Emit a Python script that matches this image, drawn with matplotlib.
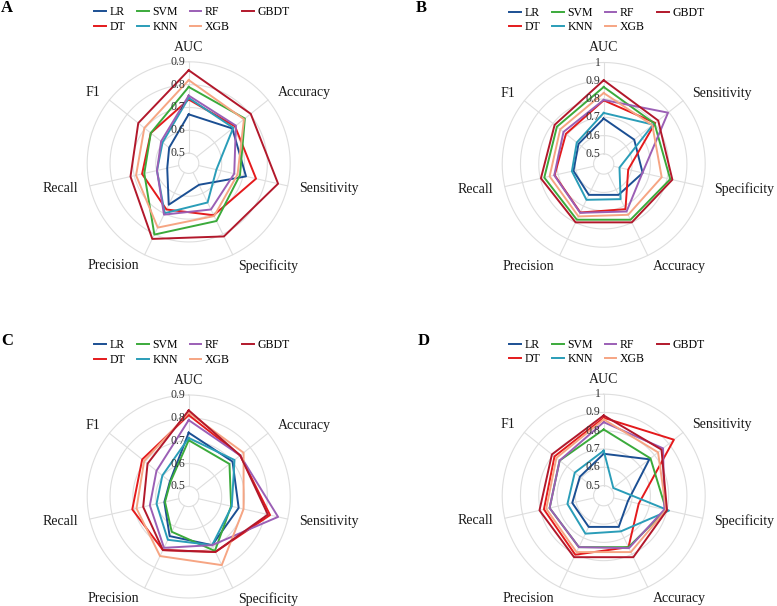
import matplotlib
matplotlib.use('Agg')
import matplotlib.pyplot as plt
import matplotlib.transforms as mtransforms
from matplotlib.lines import Line2D
import numpy as np

plt.rcParams['font.family'] = ['Liberation Serif', 'DejaVu Serif']

models = ['LR', 'DT', 'SVM', 'KNN', 'RF', 'XGB', 'GBDT']
colors = ['#1B4F93', '#E41A1C', '#3BAA3B', '#2A9DB8', '#9B5FB5', '#F6A583', '#B2182B']

metrics_AC = ['AUC', 'Accuracy', 'Sensitivity', 'Specificity', 'Precision', 'Recall', 'F1']
metrics_BD = ['AUC', 'Sensitivity', 'Specificity', 'Accuracy', 'Precision', 'Recall', 'F1']

ticks_AC = [0.5, 0.6, 0.7, 0.8, 0.9]
ticks_BD = [0.5, 0.6, 0.7, 0.8, 0.9, 1.0]
tick_labels_AC = ['0.5', '0.6', '0.7', '0.8', '0.9']
tick_labels_BD = ['0.5', '0.6', '0.7', '0.8', '0.9', '1']

# rows follow `models`, columns follow the panel's metric order
values_A = [
    [0.670, 0.700, 0.713, 0.560, 0.657, 0.552, 0.565],
    [0.735, 0.715, 0.758, 0.708, 0.680, 0.665, 0.668],
    [0.790, 0.770, 0.686, 0.736, 0.802, 0.655, 0.668],
    [0.742, 0.705, 0.580, 0.646, 0.698, 0.598, 0.602],
    [0.752, 0.720, 0.660, 0.680, 0.705, 0.598, 0.610],
    [0.820, 0.765, 0.675, 0.712, 0.768, 0.692, 0.704],
    [0.863, 0.803, 0.857, 0.811, 0.823, 0.717, 0.738],
]
values_B = [
    [0.693, 0.658, 0.663, 0.632, 0.632, 0.614, 0.621],
    [0.793, 0.805, 0.582, 0.719, 0.739, 0.720, 0.709],
    [0.866, 0.800, 0.818, 0.783, 0.783, 0.778, 0.772],
    [0.724, 0.790, 0.533, 0.658, 0.662, 0.623, 0.633],
    [0.795, 0.895, 0.662, 0.733, 0.741, 0.722, 0.726],
    [0.833, 0.785, 0.770, 0.753, 0.763, 0.748, 0.749],
    [0.903, 0.826, 0.830, 0.799, 0.799, 0.797, 0.788],
]
values_C = [
    [0.735, 0.701, 0.680, 0.692, 0.648, 0.565, 0.561],
    [0.812, 0.744, 0.821, 0.725, 0.716, 0.709, 0.716],
    [0.702, 0.684, 0.646, 0.720, 0.627, 0.562, 0.558],
    [0.712, 0.712, 0.649, 0.692, 0.666, 0.600, 0.603],
    [0.790, 0.744, 0.857, 0.692, 0.705, 0.630, 0.636],
    [0.823, 0.763, 0.702, 0.789, 0.745, 0.690, 0.705],
    [0.833, 0.744, 0.811, 0.725, 0.716, 0.660, 0.686],
]
values_D = [
    [0.674, 0.764, 0.580, 0.634, 0.634, 0.621, 0.611],
    [0.871, 0.936, 0.641, 0.757, 0.803, 0.780, 0.789],
    [0.807, 0.772, 0.795, 0.757, 0.757, 0.748, 0.753],
    [0.691, 0.512, 0.811, 0.661, 0.675, 0.648, 0.647],
    [0.847, 0.860, 0.785, 0.763, 0.757, 0.748, 0.753],
    [0.862, 0.825, 0.795, 0.787, 0.787, 0.767, 0.776],
    [0.884, 0.849, 0.800, 0.818, 0.818, 0.805, 0.807],
]

W, H = 777, 606
fig = plt.figure(figsize=(W / 100, H / 100), dpi=100)
R = 101.5
GRID = '#DEDEDE'

panels = [
    ('A', (188.7, 163.3), (1, 8), metrics_AC, values_A, ticks_AC, tick_labels_AC),
    ('B', (603.7, 164.0), (416, 8), metrics_BD, values_B, ticks_BD, tick_labels_BD),
    ('C', (188.7, 496.5), (1, 341), metrics_AC, values_C, ticks_AC, tick_labels_AC),
    ('D', (603.7, 495.7), (418, 341), metrics_BD, values_D, ticks_BD, tick_labels_BD),
]

for letter, (cx, cy), (lx, ly), metrics, vals, ticks, tlabels in panels:
    rmax = ticks[-1]
    rmin = ticks[0] - (rmax - ticks[0]) / 9.0
    ax = fig.add_axes([(cx - R) / W, 1 - (cy + R) / H, 2 * R / W, 2 * R / H],
                      projection='polar')
    ax.set_theta_zero_location('N')
    ax.set_theta_direction(-1)
    ax.set_ylim(rmin, rmax)
    ax.set_xticks([])
    ax.set_yticks([])
    ax.grid(False)
    ax.spines['polar'].set_visible(False)
    ax.patch.set_alpha(0)

    n = len(metrics)
    theta = np.arange(n) * 2 * np.pi / n
    tt = np.linspace(0, 2 * np.pi, 361)
    for t in ticks:
        ax.plot(tt, np.full_like(tt, t), color=GRID, lw=0.8, zorder=1, clip_on=False)
    for th in theta:
        ax.plot([th, th], [ticks[0], rmax], color=GRID, lw=0.8, zorder=1, clip_on=False)

    for m, col, v in zip(models, colors, vals):
        ax.plot(np.append(theta, theta[0]), np.append(v, v[0]), color=col,
                lw=1.4, zorder=3, clip_on=False)

    off = mtransforms.offset_copy(ax.transData, fig=fig, x=-3, y=0, units='dots')
    for t, lab in zip(ticks, tlabels):
        ax.text(0, t, lab, transform=off, ha='right', va='center',
                fontsize=8.5, color='#333333', zorder=5)

    for th, name in zip(theta, metrics):
        s = np.sin(th)
        if abs(s) < 0.1:
            ha, f = 'center', 1.145
        elif s > 0:
            ha, f = 'left', 1.12
        else:
            ha, f = 'right', 1.12
        ax.text(th, rmin + f * (rmax - rmin), name, ha=ha, va='center',
                fontsize=10, color='#1a1a1a')

    handles = [Line2D([0], [0], color=c, lw=1.4) for c in colors]
    fig.legend(handles, models, loc='upper center',
               bbox_to_anchor=((cx + 3) / W, 1 - (cy - 157) / H),
               ncol=4, frameon=False, fontsize=8.5, handlelength=1.0,
               handletextpad=0.3, columnspacing=1.0, labelspacing=0.2,
               borderpad=0, borderaxespad=0)

    fig.text(lx / W, 1 - ly / H, letter, fontsize=12, fontweight='bold',
             ha='left', va='center')

fig.savefig('out.png', dpi=100)
